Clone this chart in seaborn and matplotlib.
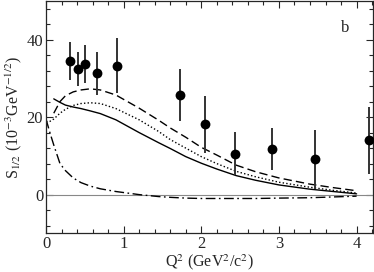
import matplotlib
matplotlib.use("Agg")
import matplotlib.pyplot as plt
import numpy as np
import pandas as pd
import seaborn as sns
from matplotlib.ticker import MultipleLocator

# measured points
q2_data = [0.31, 0.41, 0.50, 0.66, 0.91, 1.72, 2.05, 2.44, 2.91, 3.47, 4.16]
s_data = [34.5, 32.4, 33.7, 31.3, 33.3, 25.7, 18.1, 10.6, 11.8, 9.1, 14.0]
s_err = [5.0, 4.3, 5.0, 5.6, 7.0, 6.6, 7.3, 5.6, 5.4, 7.6, 8.7]

# model curves
q2_curve = [0.0, 0.05, 0.1, 0.18, 0.25, 0.35, 0.45, 0.57, 0.7, 0.9, 1.2,
            1.45, 1.6, 1.8, 2.0, 2.2, 2.45, 2.7, 3.0, 3.4, 3.7, 4.0]
dashed = [np.nan, np.nan, 21.0, 24.0, 25.5, 26.5, 27.0, 27.3, 27.0, 25.7, 22.3,
          19.2, 17.2, 14.8, 12.2, 10.2, 7.6, 5.9, 4.3, 2.7, 1.8, 1.0]
dotted = [18.8, 18.9, 19.5, 21.0, 22.0, 23.0, 23.5, 23.7, 23.5, 22.2, 19.3,
          16.3, 14.2, 12.0, 9.8, 8.0, 6.0, 4.6, 3.2, 1.9, 1.1, 0.4]
solid = [np.nan, np.nan, 24.7, 23.8, 23.1, 22.6, 22.2, 21.6, 20.9, 19.3, 16.0,
         13.4, 11.9, 9.8, 8.1, 6.6, 4.9, 3.7, 2.5, 1.4, 0.8, 0.2]
dashdot = [19.5, 16.0, 12.8, 8.0, 6.2, 4.3, 3.1, 2.2, 1.5, 0.8, 0.0,
           -0.5, -0.7, -0.9, -1.0, -1.0, -1.0, -1.0, -0.9, -0.8, -0.6, -0.4]

sns.set_style("ticks")
plt.rcParams["font.family"] = ["Liberation Serif", "DejaVu Serif"]
plt.rcParams["mathtext.fontset"] = "stix"

df = pd.DataFrame({"q2": q2_curve, "dashed": dashed, "dotted": dotted,
                   "solid": solid, "dashdot": dashdot})

fig = plt.figure(figsize=(3.74, 2.72), dpi=100)
ax = fig.add_axes([0.123, 0.142, 0.874, 0.855])

ax.axhline(0, color="#888888", lw=0.8, zorder=1)

styles = {
    "solid": dict(linestyle="-"),
    "dashed": dict(dashes=(6, 3)),
    "dotted": dict(dashes=(1, 1.6)),
    "dashdot": dict(dashes=(7, 2.5, 1.2, 2.5)),
}
for col, st in styles.items():
    sub = df[["q2", col]].dropna()
    sns.lineplot(x=sub["q2"], y=sub[col], ax=ax, color="black", lw=1.0,
                 sort=False, **st)

ax.errorbar(q2_data, s_data, yerr=s_err, fmt="none", ecolor="#333333",
            elinewidth=1.4, capsize=0, zorder=3)
sns.scatterplot(x=q2_data, y=s_data, ax=ax, color="black", s=50,
                edgecolor="black", linewidth=0, zorder=4)

ax.set_xlim(0, 4.21)
ax.set_ylim(-10, 50)
ax.xaxis.set_major_locator(MultipleLocator(1))
ax.xaxis.set_minor_locator(MultipleLocator(0.2))
ax.yaxis.set_major_locator(MultipleLocator(20))
ax.yaxis.set_minor_locator(MultipleLocator(4))
ax.tick_params(which="both", direction="in", top=True, right=True,
               labelsize=12, width=0.8, pad=2)
ax.tick_params(which="major", length=5)
ax.tick_params(which="minor", length=3)
for sp in ax.spines.values():
    sp.set_linewidth(0.9)

ax.set_xlabel(r"Q$^2$ (GeV$^2$/c$^2$)", fontsize=11.5, labelpad=0)
ax.set_ylabel(r"S$_{1/2}$ (10$^{-3}$GeV$^{-1/2}$)", fontsize=11.5, labelpad=2)
ax.text(3.85, 43, "b", fontsize=12, ha="center", va="center")

fig.savefig("out.png", dpi=100)
